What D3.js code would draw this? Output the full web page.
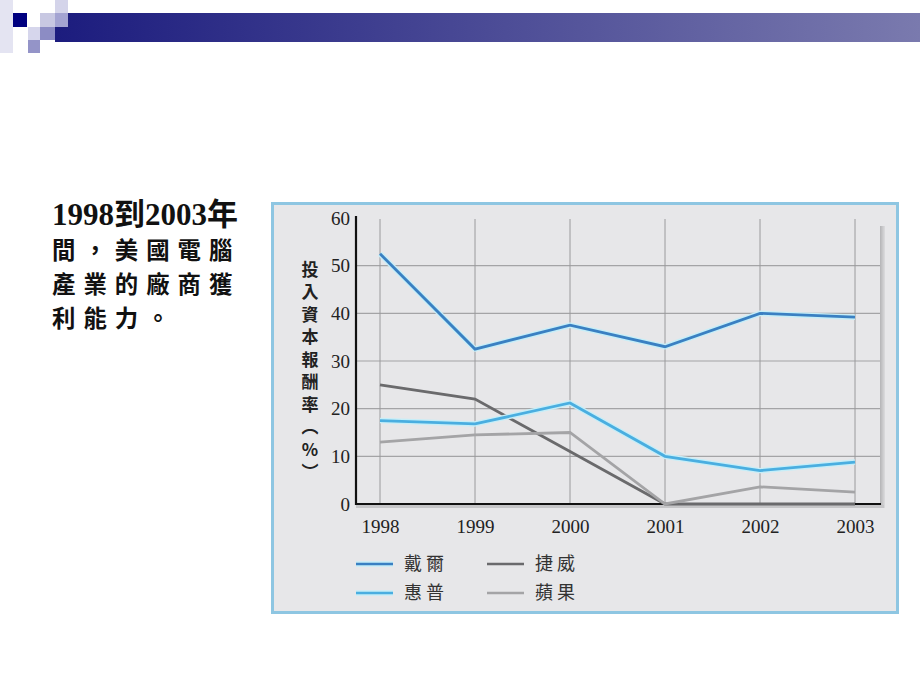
<!DOCTYPE html>
<html>
<head>
<meta charset="utf-8">
<script src="https://cdn.jsdelivr.net/npm/d3@7"></script>
<style>
  body { margin: 0; background: #fff; }
  #wrap { position: relative; width: 920px; height: 690px; }
  svg { display: block; }
  .caption {
    position: absolute; left: 52px; top: 198px;
    font-family: "Noto Sans CJK TC", sans-serif;
    font-size: 23.4px; line-height: 34px; font-weight: 700;
    letter-spacing: 8px; color: #111; white-space: nowrap;
  }
  .caption .first { font-family: "Liberation Serif", "Noto Sans CJK TC", serif; font-weight: 700; font-size: 31px; letter-spacing: 0; }
</style>
</head>
<body>
<div id="wrap"><div id="chart"></div></div>
<script>
// data
const years = [1998, 1999, 2000, 2001, 2002, 2003];
const dell = [52.5, 32.5, 37.5, 33, 40, 39.2];
const gateway = [25, 22, 11, 0, 0, 0];
const hp = [17.5, 16.8, 21.2, 10, 7, 8.8];
const apple = [13, 14.5, 15, 0, 3.6, 2.5];
const seriesNames = ['戴爾', '捷威', '惠普', '蘋果'];
const yTicks = [0, 10, 20, 30, 40, 50, 60];
const captionLines = ['1998到2003年', '間，美國電腦', '產業的廠商獲', '利能力。'];
const yTitle = '投入資本報酬率（%）';

const series = [
  {name: seriesNames[1], values: gateway, color: '#6a6a6c', halo: null},
  {name: seriesNames[3], values: apple, color: '#a4a4a6', halo: null},
  {name: seriesNames[2], values: hp, color: '#4aaee0', halo: '#c6eef8'},
  {name: seriesNames[0], values: dell, color: '#3a80c2', halo: '#c6eef8'}
];

const W = 920, H = 690;
const svg = d3.select('#chart').append('svg')
    .attr('width', W)
    .attr('height', H);

// slide header decoration
const defs = svg.append('defs');
const grad = defs.append('linearGradient').attr('id', 'bar');
grad.append('stop').attr('offset', '0%').attr('stop-color', '#1c1c7e');
grad.append('stop').attr('offset', '100%').attr('stop-color', '#7a7aae');
svg.append('rect').attr('x', 55).attr('y', 13).attr('width', 865).attr('height', 29).attr('fill', 'url(#bar)');
const squares = [
  [0, 0, 13, 53, '#e4e4f2'],
  [13, 13, 14, 14, '#000080'],
  [40, 13, 15, 14, '#c8c8e2'],
  [55, 0, 13, 13, '#d4d4ea'],
  [55, 13, 13, 14, '#a4a4d2'],
  [28, 27, 12, 13, '#d6d6ec'],
  [40, 27, 15, 13, '#8c8cc4'],
  [28, 40, 12, 13, '#9494c8']
];
svg.selectAll('.sq').data(squares).join('rect')
    .attr('class', 'sq')
    .attr('x', d => d[0]).attr('y', d => d[1])
    .attr('width', d => d[2]).attr('height', d => d[3])
    .attr('fill', d => d[4]);

// caption on the left (html block so lines sit on a 34px rhythm)
d3.select('#wrap').append('div')
    .attr('class', 'caption')
  .selectAll('div').data(captionLines).join('div')
    .attr('class', (d, i) => i === 0 ? 'first' : null)
    .text(d => d);

// chart panel
svg.append('rect')
    .attr('x', 272.5).attr('y', 203.5)
    .attr('width', 625).attr('height', 409)
    .attr('fill', '#e7e7e9')
    .attr('stroke', '#8ec6e2')
    .attr('stroke-width', 3);

const x = d3.scaleLinear().domain([1998, 2003]).range([380, 855]);
const y = d3.scaleLinear().domain([0, 60]).range([504, 218]);
const left = 356, right = 880;

// shadow on right and under the axis
const sh = defs.append('linearGradient').attr('id', 'shadow');
sh.append('stop').attr('offset', '0%').attr('stop-color', '#b4b4b6');
sh.append('stop').attr('offset', '100%').attr('stop-color', '#dcdcde');
svg.append('rect').attr('x', right).attr('y', 226).attr('width', 5).attr('height', 282).attr('fill', 'url(#shadow)');
svg.append('rect').attr('x', left).attr('y', 505).attr('width', right - left + 4).attr('height', 3).attr('fill', '#c6c6c8');

// grid
svg.append('g').selectAll('line').data(yTicks.filter(t => t > 0 && t < 60)).join('line')
    .attr('x1', left).attr('x2', right)
    .attr('y1', d => y(d)).attr('y2', d => y(d))
    .attr('stroke', '#a4a4a6').attr('stroke-width', 1.2);
svg.append('g').selectAll('line').data(years).join('line')
    .attr('x1', d => x(d)).attr('x2', d => x(d))
    .attr('y1', y(60) + 1).attr('y2', y(0))
    .attr('stroke', '#9a9a9c').attr('stroke-width', 1);

// axes
const yAxis = d3.axisLeft(y).tickValues(yTicks).tickSize(0).tickPadding(6);
const yAxisG = svg.append('g').attr('transform', `translate(${left},0)`).call(yAxis);
const xAxis = d3.axisBottom(x).tickValues(years).tickFormat(d3.format('d')).tickSize(0).tickPadding(19);
const xAxisG = svg.append('g').attr('transform', `translate(0,${y(0)})`).call(xAxis);
[yAxisG, xAxisG].forEach(g => {
  g.select('.domain').remove();
  g.selectAll('text')
      .attr('font-family', '"Liberation Serif", "Times New Roman", serif')
      .attr('font-size', 19)
      .attr('fill', '#222');
});
xAxisG.selectAll('text').attr('dy', '0.5em');
svg.append('line').attr('x1', left).attr('x2', left).attr('y1', y(60) - 2).attr('y2', y(0) + 1)
    .attr('stroke', '#111').attr('stroke-width', 2.2);
svg.append('line').attr('x1', left).attr('x2', right + 1).attr('y1', y(0)).attr('y2', y(0))
    .attr('stroke', '#111').attr('stroke-width', 2.2);

// y-axis title, set vertically
svg.append('text')
    .attr('x', 310)
    .attr('y', 261)
    .style('writing-mode', 'vertical-rl')
    .style('text-orientation', 'upright')
    .attr('font-family', '"Noto Sans CJK TC", sans-serif')
    .attr('font-weight', 700)
    .attr('font-size', 17)
    .attr('letter-spacing', 5.5)
    .attr('fill', '#222')
    .text(yTitle);

// lines
const line = d3.line()
    .x((d, i) => x(years[i]))
    .y(d => y(d));
const lines = svg.append('g');
series.forEach(s => {
  if (s.halo) {
    lines.append('path').attr('d', line(s.values)).attr('fill', 'none')
        .attr('stroke', s.halo).attr('stroke-width', 5.5).attr('stroke-linejoin', 'round');
  }
  lines.append('path').attr('d', line(s.values)).attr('fill', 'none')
      .attr('stroke', s.color).attr('stroke-width', 2.8).attr('stroke-linejoin', 'miter');
});

// legend
const legendItems = [
  {name: seriesNames[0], color: '#3a80c2', halo: '#c6eef8', col: 0, row: 0},
  {name: seriesNames[1], color: '#6a6a6c', halo: null, col: 1, row: 0},
  {name: seriesNames[2], color: '#4aaee0', halo: '#c6eef8', col: 0, row: 1},
  {name: seriesNames[3], color: '#a4a4a6', halo: null, col: 1, row: 1}
];
const legend = svg.append('g').selectAll('g').data(legendItems).join('g')
    .attr('transform', d => `translate(${356 + d.col * 131},${564 + d.row * 29})`);
legend.filter(d => d.halo).append('line')
    .attr('x1', 0).attr('x2', 37).attr('stroke', d => d.halo).attr('stroke-width', 5.5);
legend.append('line')
    .attr('x1', 0).attr('x2', 37).attr('stroke', d => d.color).attr('stroke-width', 2.6);
legend.append('text')
    .attr('x', 48).attr('dy', '0.36em')
    .attr('font-family', '"Noto Sans CJK TC", sans-serif')
    .attr('font-size', 18)
    .attr('letter-spacing', 4)
    .attr('fill', '#333')
    .text(d => d.name);
</script>
</body>
</html>
